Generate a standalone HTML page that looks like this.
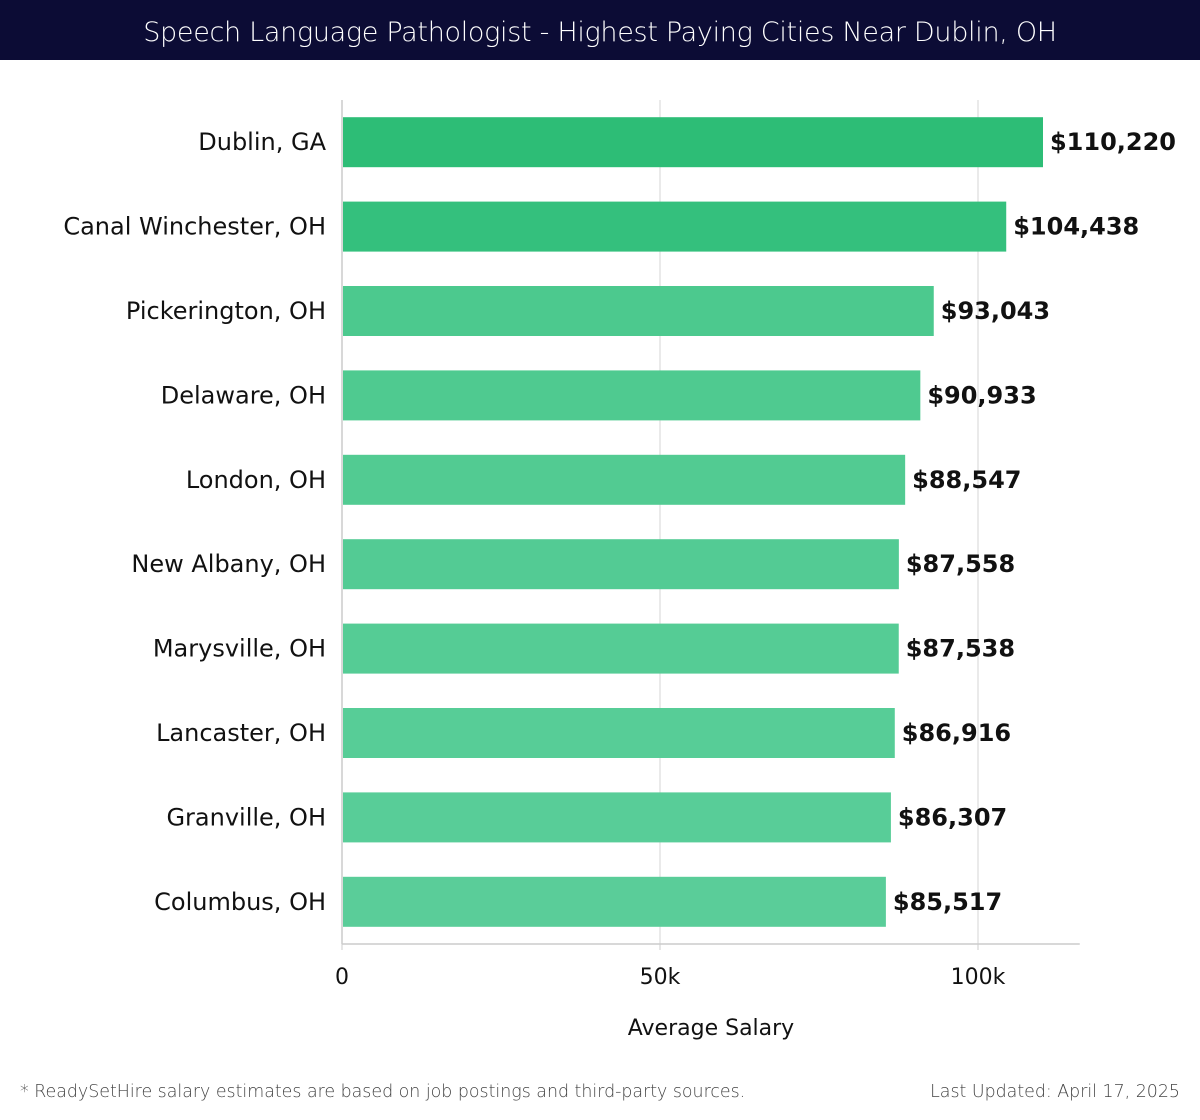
<!DOCTYPE html>
<html><head><meta charset="utf-8"><style>
body{margin:0;width:1200px;height:1120px;background:#fff;font-family:"DejaVu Sans","Liberation Sans",sans-serif;overflow:hidden;position:relative}
.hdr{position:absolute;left:0;top:0;width:1200px;height:60px;background:#0c0c35;color:#fff;font-size:27px;text-align:center;line-height:66px;font-family:"DejaVu Sans","Liberation Sans",sans-serif;font-weight:200;letter-spacing:-0.3px}
.foot{position:absolute;top:1082px;font-size:17.4px;color:#444;font-family:"DejaVu Sans",sans-serif;font-weight:200}
</style></head><body>
<div class="hdr">Speech Language Pathologist - Highest Paying Cities Near Dublin, OH</div>
<svg id="chart" width="1200" height="1060" style="position:absolute;left:0;top:0"></svg>
<div class="foot" style="left:20px">* ReadySetHire salary estimates are based on job postings and third-party sources.</div>
<div class="foot" style="right:20px">Last Updated: April 17, 2025</div>
<script>
const cities=["Dublin, GA","Canal Winchester, OH","Pickerington, OH","Delaware, OH","London, OH","New Albany, OH","Marysville, OH","Lancaster, OH","Granville, OH","Columbus, OH"];
const salaries=[110220,104438,93043,90933,88547,87558,87538,86916,86307,85517];
const colors=["#2dbd76","#34c07d","#4cc98e","#4fca90","#52cb92","#53cb94","#55cc95","#57cd97","#58cd98","#5acd99"];
const ticks=[0,50000,100000];
const tickLabels=["0","50k","100k"];
(function(){
const NS="http://www.w3.org/2000/svg";
const svg=document.getElementById('chart');
const x0=342,x1=978,yTop=100,yBot=944,xmax=116000;
const xs=v=>x0+(v/100000)*(x1-x0);
const step=(yBot-yTop)/cities.length, bh=50;
const FF='"DejaVu Sans","Liberation Sans",sans-serif';
function mk(t,a){const e=document.createElementNS(NS,t);for(const k in a)e.setAttribute(k,a[k]);svg.appendChild(e);return e;}
ticks.forEach((t,i)=>{
 const g=mk('line',{x1:xs(t),x2:xs(t),y1:yTop,y2:yBot,stroke:i==0?'#ccc':'#e3e3e3','stroke-width':1.5});
 
 
 mk('line',{x1:xs(t),x2:xs(t),y1:yBot,y2:yBot+6,stroke:'#ccc'});
 const l=mk('text',{x:xs(t),y:yBot+40,'text-anchor':'middle','font-size':22,fill:'#111','font-family':FF});
 l.textContent=tickLabels[i];
 
 
});
const ax=mk('line',{x1:x0,x2:xs(xmax),y1:yBot,y2:yBot,stroke:'#ccc','stroke-width':1.5});


const at=mk('text',{x:711,y:1035,'text-anchor':'middle','font-size':22,fill:'#111','font-family':FF});
at.textContent='Average Salary';


cities.forEach((c,i)=>{
 const cy=yTop+step*(i+0.5);
 const r=mk('rect',{x:x0+1,y:cy-bh/2,width:xs(salaries[i])-x0-1,height:bh,fill:colors[i]});
 
 
 const l=mk('text',{x:326,y:cy+8,'text-anchor':'end','font-size':24,fill:'#111','font-family':FF});
 l.textContent=c;
 
 
 const v=mk('text',{x:xs(salaries[i])+7,y:cy+8,'font-size':24,'font-weight':'bold',fill:'#111','font-family':FF});
 v.textContent='$'+salaries[i].toLocaleString('en-US');
 
 
});
})();
</script>
</body></html>
